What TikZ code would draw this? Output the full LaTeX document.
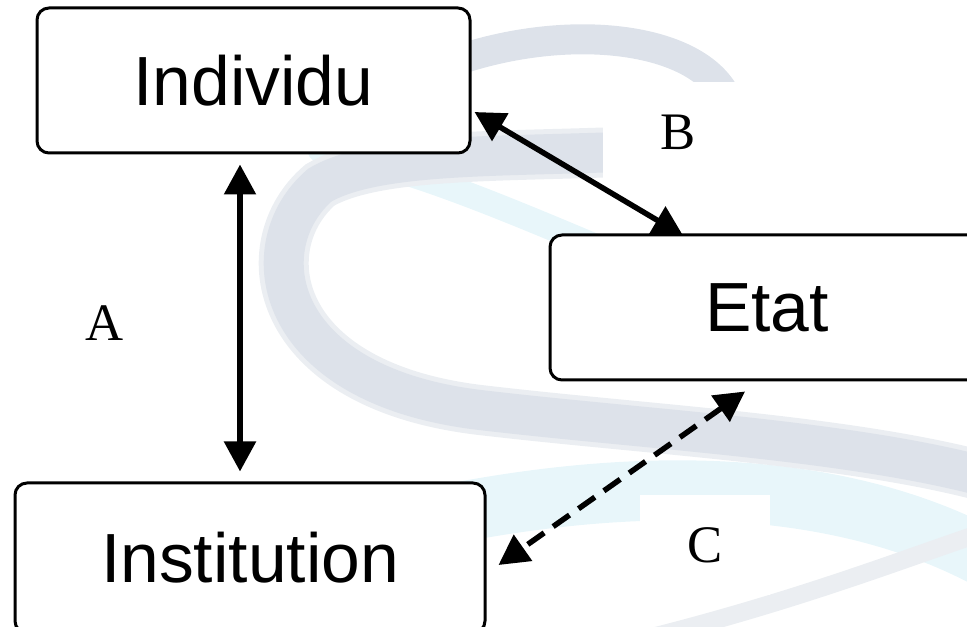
\documentclass[tikz,border=0pt]{standalone}
\usepackage{fontspec}
\setmainfont{Liberation Serif}
\setsansfont{Liberation Sans}
\usetikzlibrary{arrows.meta,calc}

\definecolor{ribgray}{RGB}{221,226,234}
\definecolor{ribcyan}{RGB}{232,246,250}

\tikzset{
  box/.style={draw, fill=white, line width=0.3mm, rounded corners=1.2mm,
    font=\sffamily\fontsize{19.8}{22}\selectfont},
  link/.style={line width=0.55mm, {Triangle[length=3mm,width=3.1mm]}-{Triangle[length=3mm,width=3.1mm]}},
  tag/.style={font=\fontsize{15}{17}\selectfont, inner sep=0pt},
  swirl/.style={line cap=round}
}

\begin{document}
\begin{tikzpicture}[x=0.1mm,y=-0.1mm]
\useasboundingbox (0,0) rectangle (967,627);
\clip (0,0) rectangle (967,627);

% faint background ribbon
\draw[swirl, line width=6mm, color=ribcyan]
  (420,520) .. controls (700,460) and (880,500) .. (990,560);
\draw[swirl, line width=2.5mm, color=ribcyan]
  (320,150) .. controls (420,170) and (520,215) .. (640,265);
\draw[swirl, line width=3mm, color=ribgray]
  (725,95) .. controls (690,30) and (540,20) .. (420,75);
\draw[swirl, line width=5mm, color=ribgray!60]
  (660,150) .. controls (520,158) and (380,150) .. (320,185)
  .. controls (250,245) and (270,385) .. (480,410)
  .. controls (650,430) and (850,440) .. (990,478);
\draw[swirl, line width=4mm, color=ribgray]
  (660,150) .. controls (520,158) and (380,150) .. (320,185)
  .. controls (250,245) and (270,385) .. (480,410)
  .. controls (650,430) and (850,440) .. (990,478);
\draw[swirl, line width=1.8mm, color=ribgray!60]
  (640,640) .. controls (800,600) and (900,560) .. (990,530);

% the three boxes
\node[box, minimum width=43.3mm, minimum height=14.5mm] (ind) at (253.5,80.5) {Individu};
\node[box, minimum width=43.4mm, minimum height=14.5mm] (etat) at (767,307.5) {Etat};
\node[box, minimum width=47mm, minimum height=15mm] (inst) at (250,558) {Institution};

% connectors
\draw[link] ($(ind.south)+(-13.5,10)$) -- ($(inst.north)+(-10,-10)$);
\draw[link] ($(ind.east)+(3,31.5)$) -- ($(etat.north)+(-84,2)$);
\draw[link, dash pattern=on 2mm off 1.1mm] ($(etat.south)+(-22,10)$) -- ($(inst.east)+(12,7)$);

% labels
\node[tag] (la) at (105,323) {A};
\node[tag, fill=white, minimum width=15mm, minimum height=10mm] (lb) at (678,132) {B};
\node[tag, fill=white, minimum width=13mm, minimum height=10mm] (lc) at (705,545) {C};

\end{tikzpicture}
\end{document}
